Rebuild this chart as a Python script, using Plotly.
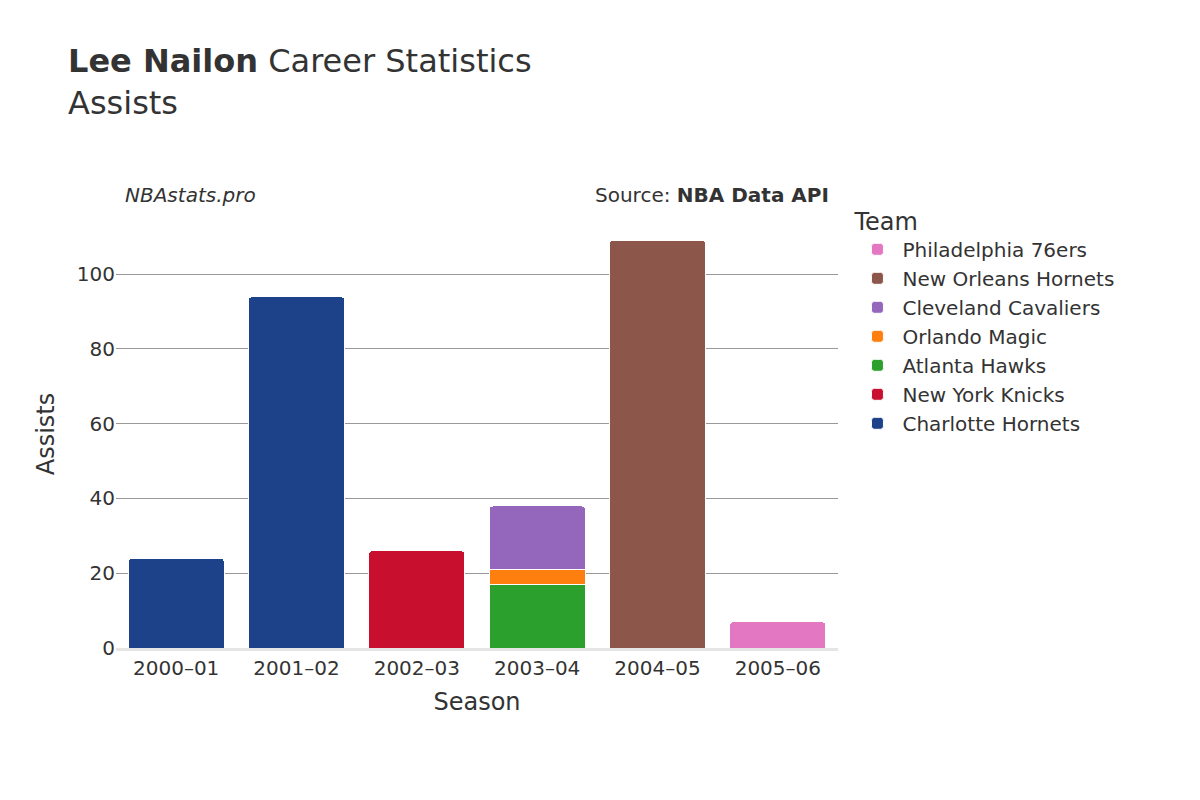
import plotly.graph_objects as go

seasons = ["2000–01", "2001–02", "2002–03", "2003–04", "2004–05", "2005–06"]
teams = ["Charlotte Hornets", "New York Knicks", "Atlanta Hawks", "Orlando Magic",
         "Cleveland Cavaliers", "New Orleans Hornets", "Philadelphia 76ers"]
colors = ["#1d428a", "#c8102e", "#2ca02c", "#ff7f0e", "#9467bd", "#8c564b", "#e377c2"]
assists = {
    "Charlotte Hornets": [24, 94, None, None, None, None],
    "New York Knicks": [None, None, 26, None, None, None],
    "Atlanta Hawks": [None, None, None, 17, None, None],
    "Orlando Magic": [None, None, None, 4, None, None],
    "Cleveland Cavaliers": [None, None, None, 17, None, None],
    "New Orleans Hornets": [None, None, None, None, 109, None],
    "Philadelphia 76ers": [None, None, None, None, None, 7],
}

fig = go.Figure()
for team, color in zip(teams, colors):
    fig.add_trace(go.Bar(x=seasons, y=assists[team], name=team,
                         marker=dict(color=color, line=dict(color="white", width=1))))

fig.update_layout(
    barmode="stack",
    barcornerradius=4,
    width=1200, height=800,
    font=dict(family="DejaVu Sans", color="#333", size=20),
    plot_bgcolor="white", paper_bgcolor="white",
    margin=dict(l=108, r=370, t=212, b=160),
    title=dict(text="<b>Lee Nailon</b> Career Statistics<br>Assists",
               x=0.05, xanchor="left", y=0.92, yanchor="top", font=dict(size=32)),
    xaxis=dict(title=dict(text="Season", font=dict(size=24)), showline=True,
               linecolor="#e5e5e5", linewidth=3, tickfont=dict(size=20)),
    yaxis=dict(title=dict(text="Assists", font=dict(size=24)), gridcolor="#999",
               range=[0, 114.5], dtick=20, zeroline=False, tickfont=dict(size=20)),
    legend=dict(title=dict(text="Team", font=dict(size=24)), x=1.02, y=1.05,
                yanchor="top", font=dict(size=20), itemwidth=40),
    bargap=0.2,
    annotations=[
        dict(text="<i>NBAstats.pro</i>", xref="paper", yref="paper", x=0.01, y=1.09,
             showarrow=False, xanchor="left", font=dict(size=20)),
        dict(text="Source: <b>NBA Data API</b>", xref="paper", yref="paper", x=0.99,
             y=1.09, showarrow=False, xanchor="right", font=dict(size=20)),
    ],
)

fig.write_html("out.html")
